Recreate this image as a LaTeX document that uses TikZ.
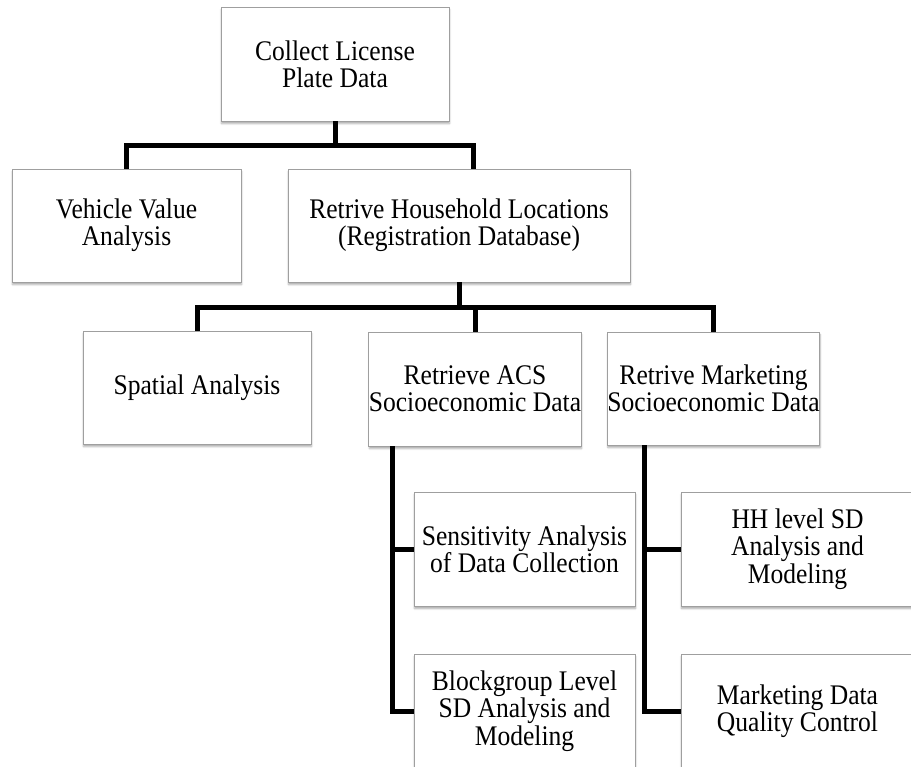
\documentclass[tikz,border=0pt]{standalone}
\usepackage{fontspec}
\setmainfont[FakeStretch=0.9]{Liberation Serif}
\usepackage{tikz}
\usetikzlibrary{shadows.blur}

\begin{document}
\begin{tikzpicture}[x=1bp,y=-1bp,
    box/.style={draw=gray!75, line width=0.9bp, fill=white, align=center, inner sep=0pt,
      font=\fontsize{28.5}{27.5}\selectfont,
      blur shadow={shadow xshift=0.5bp, shadow yshift=-2.5bp, shadow blur steps=4, shadow opacity=35}},
    conn/.style={line width=5bp}]
      \useasboundingbox (0,0) rectangle (911,767);
      \clip (0,0) rectangle (911,767);
      \node[box, minimum width=228bp, minimum height=114bp] (plate) at (335,64) {Collect License\\Plate Data};
      \node[box, minimum width=229bp, minimum height=113bp] (value) at (126.5,225.5) {Vehicle Value\\Analysis};
      \node[box, minimum width=342bp, minimum height=113bp] (house) at (459,225.5) {Retrive Household Locations\\(Registration Database)};
      \node[box, minimum width=228bp, minimum height=113bp] (spatial) at (197,387.5) {Spatial Analysis};
      \node[box, minimum width=208bp, minimum height=114bp] (acs) at (475,389) {Retrieve ACS\\Socioeconomic Data};
      \node[box, minimum width=209bp, minimum height=113bp] (market) at (713.5,388.5) {Retrive Marketing\\Socioeconomic Data};
      \node[box, minimum width=221bp, minimum height=114bp] (sens) at (524.5,549) {Sensitivity Analysis\\of Data Collection};
      \node[box, minimum width=221bp, minimum height=114bp] (block) at (524.5,711) {Blockgroup Level\\SD Analysis and\\Modeling};
      \node[box, minimum width=233bp, minimum height=114bp] (hhsd) at (797.5,549) {HH level SD\\Analysis and\\Modeling};
      \node[box, minimum width=233bp, minimum height=114bp] (quality) at (797.5,711) {Marketing Data\\Quality Control};
      \coordinate (j1) at (335,145);
      \coordinate (j2) at (459,307);
      \draw[conn] (plate.south) -- (j1); % plate -> level 2
      \draw[conn] (value.north) |- (j1) -| ([xshift=14bp]house.north); % value, house
      \draw[conn] (house.south) -- (j2); % house -> level 3
      \draw[conn] (spatial.north) |- (j2) -| (market.north); % spatial, market
      \draw[conn] (acs.north) |- (j2); % acs
      \draw[conn] (sens.west) -| ([xshift=24bp]acs.south west); % acs -> sens
      \draw[conn] (block.west) -| ([xshift=24bp]acs.south west); % acs -> block
      \draw[conn] (hhsd.west) -| ([xshift=38bp]market.south west); % market -> hhsd
      \draw[conn] (quality.west) -| ([xshift=38bp]market.south west); % market -> quality
    \end{tikzpicture}
\end{document}
